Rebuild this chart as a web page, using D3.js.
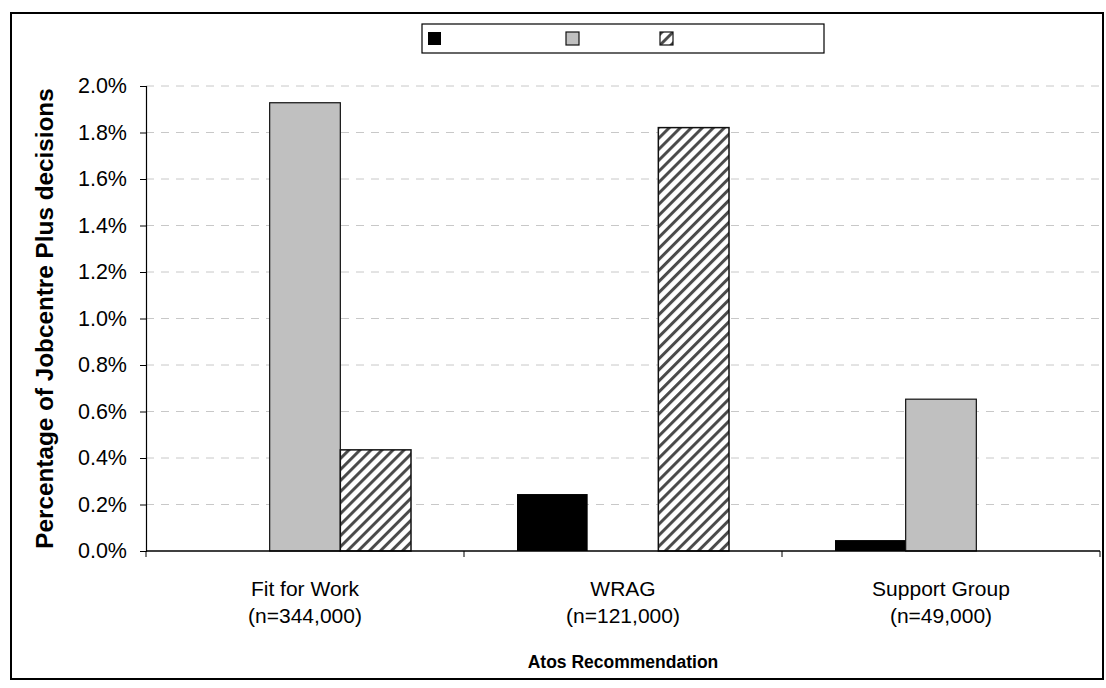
<!DOCTYPE html>
<html>
<head>
<meta charset="utf-8">
<script src="https://cdn.jsdelivr.net/npm/d3@7"></script>
<style>
  html, body { margin: 0; padding: 0; background: #fff; }
  svg text { font-family: "Liberation Sans", Arial, sans-serif; fill: #000; }
</style>
</head>
<body>
<svg id="chart" width="1106" height="688"></svg>
<script>
// chart data
const categories = ["Fit for Work", "WRAG", "Support Group"];
const categorySizes = ["(n=344,000)", "(n=121,000)", "(n=49,000)"];
const seriesKeys = ["black", "grey", "hatched"];
const seriesLabels = ["", "", ""];           // legend has no visible text
const blackValues = [0.0, 0.00245, 0.00047];
const greyValues = [0.01928, 0.0, 0.00653];
const hatchedValues = [0.00435, 0.01821, 0.0];
const yTicks = [0, 0.002, 0.004, 0.006, 0.008, 0.010, 0.012, 0.014, 0.016, 0.018, 0.020];

const svg = d3.select("#chart"),
   width = +svg.attr("width"),
   height = +svg.attr("height");

const margin = {left: 146, right: 6, top: 86, bottom: 137};
const plotBottom = height - margin.bottom;

// hatch pattern
const defs = svg.append("defs");
const pat = defs.append("pattern")
   .attr("id", "hatch")
   .attr("patternUnits", "userSpaceOnUse")
   .attr("width", 7.8).attr("height", 7.8)
   .attr("patternTransform", "rotate(45)");
pat.append("rect").attr("width", 7.8).attr("height", 7.8).attr("fill", "#fff");
pat.append("rect").attr("x", 0).attr("width", 3).attr("height", 7.8).attr("fill", "#4a4a4a");

const fills = {black: "#000", grey: "#c0c0c0", hatched: "url(#hatch)"};

// outer frame
svg.append("rect")
   .attr("x", 11).attr("y", 13)
   .attr("width", width - 14).attr("height", height - 22)
   .attr("fill", "#fff").attr("stroke", "#000").attr("stroke-width", 2);

const x0 = d3.scaleBand()
   .domain(categories)
   .range([margin.left, width - margin.right])
   .paddingInner(0).paddingOuter(0);

const x1 = d3.scaleBand()
   .domain(seriesKeys)
   .range([0, x0.bandwidth()])
   .paddingInner(0).paddingOuter(0.75);

const y = d3.scaleLinear()
   .domain([0, 0.02])
   .range([plotBottom, margin.top]);

// gridlines
svg.append("g")
   .selectAll("line")
   .data(yTicks.filter(d => d > 0))
   .join("line")
   .attr("x1", margin.left).attr("x2", width - margin.right)
   .attr("y1", d => y(d)).attr("y2", d => y(d))
   .attr("stroke", "#c8c8c8").attr("stroke-width", 1)
   .attr("stroke-dasharray", "8,7");

// bars
const rows = categories.map((c, i) => ({
   cat: c,
   values: [
      {key: "black", v: blackValues[i]},
      {key: "grey", v: greyValues[i]},
      {key: "hatched", v: hatchedValues[i]}
   ]
}));

const groups = svg.append("g")
   .selectAll("g")
   .data(rows)
   .join("g")
   .attr("transform", d => `translate(${x0(d.cat)},0)`);

groups.selectAll("rect")
   .data(d => d.values.filter(e => e.v > 0))
   .join("rect")
   .attr("x", d => x1(d.key))
   .attr("y", d => y(d.v))
   .attr("width", x1.bandwidth())
   .attr("height", d => plotBottom - y(d.v))
   .attr("fill", d => fills[d.key])
   .attr("stroke", d => d.key === "black" ? "none" : "#111")
   .attr("stroke-width", d => d.key === "hatched" ? 1.5 : 1.2);

// y axis
const yAxis = svg.append("g")
   .attr("transform", `translate(${margin.left},0)`)
   .call(d3.axisLeft(y).tickValues(yTicks).tickFormat(d3.format(".1%")).tickSize(6).tickPadding(13));
yAxis.select(".domain").attr("stroke", "#000").attr("stroke-width", 1.2);
yAxis.selectAll(".tick line").attr("stroke", "#000");
yAxis.selectAll(".tick text")
   .style("font-family", "Liberation Sans, Arial, sans-serif")
   .style("font-size", "21.5px")
   .attr("fill", "#000");

// x axis: ticks at category boundaries
const boundaries = categories.map(c => x0(c)).concat([x0(categories[categories.length - 1]) + x0.bandwidth()]);
svg.append("line")
   .attr("x1", margin.left).attr("x2", width - margin.right)
   .attr("y1", plotBottom).attr("y2", plotBottom)
   .attr("stroke", "#000").attr("stroke-width", 1.5);
svg.append("g")
   .selectAll("line")
   .data(boundaries)
   .join("line")
   .attr("x1", d => d).attr("x2", d => d)
   .attr("y1", plotBottom).attr("y2", plotBottom + 6)
   .attr("stroke", "#000");

const xlab = svg.append("g")
   .selectAll("text")
   .data(categories)
   .join("text")
   .attr("x", d => x0(d) + x0.bandwidth() / 2)
   .attr("y", plotBottom + 45)
   .attr("text-anchor", "middle")
   .style("font-size", "21px");
xlab.append("tspan").text(d => d);
xlab.append("tspan")
   .attr("x", d => x0(d) + x0.bandwidth() / 2)
   .attr("dy", 27)
   .text((d, i) => categorySizes[i]);

// axis titles
svg.append("text")
   .attr("x", (margin.left + width - margin.right) / 2)
   .attr("y", 668)
   .attr("text-anchor", "middle")
   .style("font-size", "17.5px").style("font-weight", "bold")
   .text("Atos Recommendation");

svg.append("text")
   .attr("transform", `translate(53,${(margin.top + plotBottom) / 2}) rotate(-90)`)
   .attr("text-anchor", "middle")
   .style("font-size", "24.3px").style("font-weight", "bold")
   .text("Percentage of Jobcentre Plus decisions");

// legend
const legendX = [428, 566, 660];
const legend = svg.append("g");
legend.append("rect")
   .attr("x", 422).attr("y", 24).attr("width", 402).attr("height", 29)
   .attr("fill", "#fff").attr("stroke", "#000").attr("stroke-width", 1.2);
const items = legend.selectAll("g.item")
   .data(seriesKeys)
   .join("g")
   .attr("class", "item")
   .attr("transform", (d, i) => `translate(${legendX[i]},32)`);
items.append("rect")
   .attr("width", 13).attr("height", 13)
   .attr("fill", d => fills[d])
   .attr("stroke", d => d === "black" ? "none" : "#111")
   .attr("stroke-width", 1.2);
items.append("text")
   .attr("x", 18).attr("y", 12)
   .style("font-size", "16px")
   .text((d, i) => seriesLabels[i]);
</script>
</body>
</html>
